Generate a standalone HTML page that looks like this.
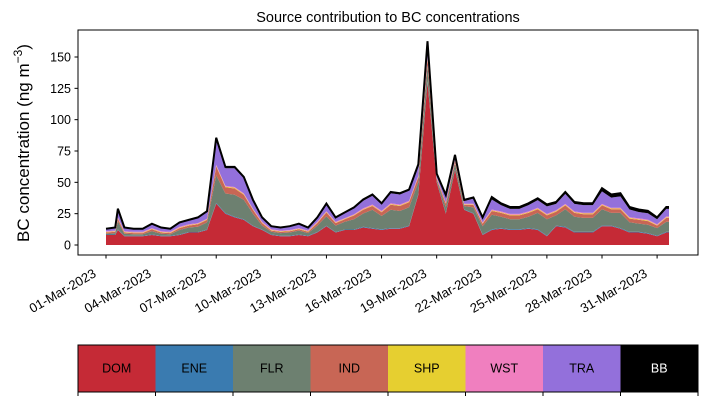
<!DOCTYPE html>
<html><head><meta charset="utf-8"><style>
body{margin:0;background:#fff;}
svg{display:block;font-family:"Liberation Sans","DejaVu Sans",sans-serif;}
</style></head><body>
<svg id="chart" width="707" height="402" viewBox="0 0 707 402" xmlns="http://www.w3.org/2000/svg">
<text x="388" y="22" text-anchor="middle" font-size="14.5">Source contribution to BC concentrations</text>
<text transform="translate(29,143) rotate(-90)" text-anchor="middle" font-size="17">BC concentration (ng m<tspan dy="-7" font-size="12">−3</tspan><tspan dy="7">)</tspan></text>
<g id="areas"></g>
<rect x="78" y="30" width="620" height="225" fill="none" stroke="#000" stroke-width="1"/>
<g id="yaxis"></g>
<g id="xaxis"></g>
<g id="legend"></g>
</svg>
<script>
const days = [0,0.5,0.65,1,1.5,2,2.5,3,3.5,4,4.5,5,5.5,6,6.5,7,7.5,8,8.5,9,9.5,10,10.5,11,11.5,12,12.5,13,13.5,14,14.5,15,15.5,16,16.5,17,17.5,18,18.5,19,19.5,20,20.5,21,21.5,22,22.5,23,23.5,24,24.5,25,25.5,26,26.5,27,27.5,28,28.5,29,29.5,30,30.5,30.65];
const dom = [8,8,12,7,7,7,8,7,7,8,10,10,12,33,25,22,20,15,12,8,7,7,8,7,10,15,10,12,12,14,13,12,13,13,15,40,130,50,25,60,28,25,8,12,13,12,12,13,12,7,15,14,10,10,10,15,15,13,10,10,9,7,10,10];
const ene = [0.4,0.4,0.4,0.4,0.4,0.4,0.4,0.4,0.4,0.4,0.4,0.4,0.4,0.6,0.5,0.5,0.5,0.4,0.4,0.4,0.4,0.4,0.4,0.4,0.4,0.4,0.4,0.4,0.4,0.5,0.5,0.5,0.5,0.5,0.5,0.5,0.6,0.4,0.4,0.4,0.4,0.4,0.4,0.5,0.5,0.5,0.5,0.5,0.5,0.5,0.5,0.5,0.5,0.5,0.5,0.5,0.5,0.5,0.5,0.5,0.5,0.4,0.5,0.5];
const flr = [0.6,1.1,6.6,1.6,1.1,1.1,2.6,1.6,1.1,3.6,3.6,4.1,5.6,22.1,15.6,17.6,15.6,9.6,3.1,2.1,2.1,2.6,3.1,2.1,5.1,7.6,5.1,6.1,8.1,10.6,14.6,10.6,14.6,13.6,14.6,9.6,12.6,1.6,4.6,4.6,2.6,4.6,6.6,11.6,9.1,8.1,8.1,9.1,13.1,13.1,8.1,14.1,12.1,11.1,11.1,13.1,10.1,12.1,7.6,6.6,6.6,6.1,8.1,8.1];
const ind = [1,1,2,1,1,1,1.5,1,1,1.5,1.5,2,2,7,5,5,4,3,2,1,1,1,1,1,2,3,2,2,3,3,3,3,4,4,4,4,6,1,3,2,1,2,2,3,3,3,3,3,3,3,3,3,3,3,3,3,3,3,3,3,3,2,3,3];
const shp = [0.4,0.4,0.4,0.4,0.4,0.4,0.4,0.4,0.4,0.4,0.4,0.4,0.4,0.6,0.5,0.5,0.5,0.4,0.4,0.4,0.4,0.4,0.4,0.4,0.4,0.4,0.4,0.4,0.4,0.5,0.5,0.5,0.5,0.5,0.5,0.5,0.6,0.4,0.4,0.4,0.4,0.4,0.4,0.5,0.5,0.5,0.5,0.5,0.5,0.5,0.5,0.5,0.5,0.5,0.5,0.5,0.5,0.5,0.5,0.5,0.5,0.4,0.5,0.5];
const wst = [0.6,0.6,0.6,0.6,0.6,0.6,0.6,0.6,0.6,0.6,0.6,0.6,0.6,0.8,0.7,0.7,0.7,0.6,0.6,0.6,0.6,0.6,0.6,0.6,0.6,0.6,0.6,0.6,0.6,0.7,0.7,0.7,0.7,0.7,0.7,0.7,0.8,0.6,0.6,0.6,0.6,0.6,0.6,0.7,0.7,0.7,0.7,0.7,0.7,0.7,0.7,0.7,0.7,0.7,0.7,0.7,0.7,0.7,0.7,0.7,0.7,0.6,0.7,0.7];
const tra = [1.5,2,6,2.5,2,2,3,2.5,2,3,3,4,5,20,14,15,12,6,3,2,2,2.5,3,2,3,5,3,4,5,6,7,5,8,8,8,8,10,2,5,3,2,4,3,8,5,4,4,5,6,6,5,8,6,6,6,10,8,9,6,5,5,4,6,6];
const bb = [0.5,0.5,1,0.5,0.5,0.5,0.5,0.5,0.5,0.5,0.5,0.5,1,1.5,1,1,1,1,0.5,0.5,0.5,0.5,0.5,0.5,0.5,1,0.5,0.5,0.5,1,1,1,1,1,1,1,2,1,1,1,1,1,1,2,1.5,1.5,1.5,1.5,1.5,1.5,1.5,1.5,1.5,1.5,1.5,2.5,2.5,2.5,2,2,2,1.5,1.5,1.5];
const seriesNames = ["DOM","ENE","FLR","IND","SHP","WST","TRA","BB"];
const seriesColors = ["#c52a36","#3a7bb0","#6d8070","#c86655","#e6cf30","#f07fbf","#9370db","#000000"];
const yTicks = [0,25,50,75,100,125,150];
const xTickDays = [0,3,6,9,12,15,18,21,24,27,30];
const xTickLabels = ["01-Mar-2023","04-Mar-2023","07-Mar-2023","10-Mar-2023","13-Mar-2023","16-Mar-2023","19-Mar-2023","22-Mar-2023","25-Mar-2023","28-Mar-2023","31-Mar-2023"];

const NS="http://www.w3.org/2000/svg";
const xS = d => 106 + d*18.37;
const yS = v => 245 - v*1.2533;
const all=[dom,ene,flr,ind,shp,wst,tra,bb];
const areas=document.getElementById('areas');
let base=days.map(()=>0);
all.forEach((s,k)=>{
  const top=base.map((b,i)=>b+s[i]);
  let pts=days.map((d,i)=>xS(d).toFixed(1)+','+yS(top[i]).toFixed(1));
  for(let i=days.length-1;i>=0;i--) pts.push(xS(days[i]).toFixed(1)+','+yS(base[i]).toFixed(1));
  const p=document.createElementNS(NS,'polygon');
  p.setAttribute('points',pts.join(' '));
  p.setAttribute('fill',seriesColors[k]);
  
  
  areas.appendChild(p);
  base=top;
});
const line=document.createElementNS(NS,'polyline');
line.setAttribute('points',days.map((d,i)=>xS(d).toFixed(1)+','+yS(base[i]).toFixed(1)).join(' '));
line.setAttribute('fill','none');line.setAttribute('stroke','#000');line.setAttribute('stroke-width','2');


areas.appendChild(line);

const ya=document.getElementById('yaxis');
yTicks.forEach(v=>{
  const y=yS(v);
  const l=document.createElementNS(NS,'line');
  l.setAttribute('x1',74.5);l.setAttribute('x2',78);l.setAttribute('y1',y);l.setAttribute('y2',y);l.setAttribute('stroke','#000');
  
  
  ya.appendChild(l);
  const t=document.createElementNS(NS,'text');
  t.setAttribute('x',71);t.setAttribute('y',y+4.5);t.setAttribute('text-anchor','end');t.setAttribute('font-size','12.5');
  t.textContent=v;
  
  
  ya.appendChild(t);
});
const xa=document.getElementById('xaxis');
xTickDays.forEach((d,i)=>{
  const x=xS(d);
  const l=document.createElementNS(NS,'line');
  l.setAttribute('x1',x);l.setAttribute('x2',x);l.setAttribute('y1',255);l.setAttribute('y2',258.5);l.setAttribute('stroke','#000');
  
  
  xa.appendChild(l);
  const t=document.createElementNS(NS,'text');
  t.setAttribute('transform','translate('+(x-9)+',276) rotate(-30)');
  t.setAttribute('text-anchor','end');t.setAttribute('font-size','13');
  t.textContent=xTickLabels[i];
  
  
  xa.appendChild(t);
});
const lg=document.getElementById('legend');
const cw=620/8;
seriesNames.forEach((n,k)=>{
  const r=document.createElementNS(NS,'rect');
  r.setAttribute('x',78+k*cw);r.setAttribute('y',345);r.setAttribute('width',cw+0.5);r.setAttribute('height',47);r.setAttribute('fill',seriesColors[k]);
  
  
  lg.appendChild(r);
  const t=document.createElementNS(NS,'text');
  t.setAttribute('x',78+k*cw+cw/2);t.setAttribute('y',372.5);t.setAttribute('text-anchor','middle');t.setAttribute('font-size','12.5');
  t.setAttribute('fill',n==="BB"?'#fff':'#000');
  t.textContent=n;
  
  
  lg.appendChild(t);
});
for(let k=0;k<=8;k++){
  const l=document.createElementNS(NS,'line');
  const x=78+k*cw;
  l.setAttribute('x1',x);l.setAttribute('x2',x);l.setAttribute('y1',392);l.setAttribute('y2',396);l.setAttribute('stroke','#000');
  
  
  lg.appendChild(l);
}
const fr=document.createElementNS(NS,'rect');
fr.setAttribute('x',78);fr.setAttribute('y',345);fr.setAttribute('width',620);fr.setAttribute('height',47);fr.setAttribute('fill','none');fr.setAttribute('stroke','#000');


lg.appendChild(fr);
</script>
</body></html>
